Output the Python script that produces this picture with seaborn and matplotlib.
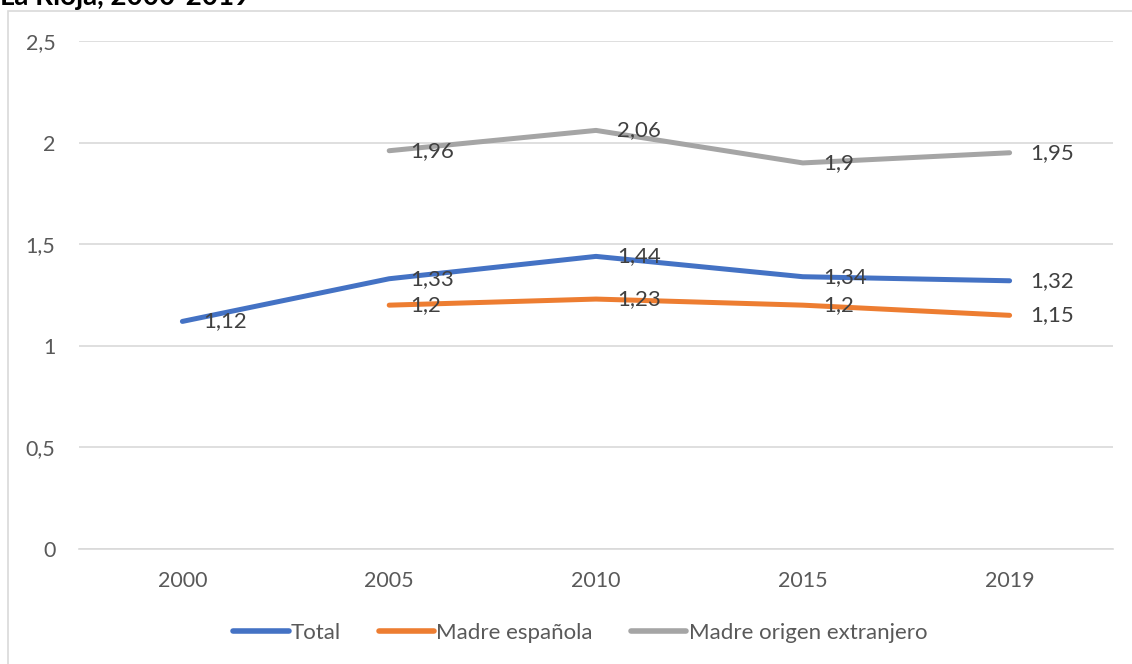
import pandas as pd
import numpy as np
import matplotlib.pyplot as plt
import seaborn as sns
from matplotlib.patches import Rectangle

# data
years = ["2000", "2005", "2010", "2015", "2019"]
total = [1.12, 1.33, 1.44, 1.34, 1.32]
madre_esp = [np.nan, 1.20, 1.23, 1.20, 1.15]
madre_ext = [np.nan, 1.96, 2.06, 1.90, 1.95]
series_names = ["Total", "Madre española", "Madre origen extranjero"]
colors = ["#4472C4", "#ED7D31", "#A5A5A5"]

rows = []
for name, vals in zip(series_names, [total, madre_esp, madre_ext]):
    for i, v in enumerate(vals):
        rows.append({"pos": i, "year": years[i], "serie": name, "valor": v})
df = pd.DataFrame(rows)

sns.set_style("white")
plt.rcParams['font.family'] = ['Lato', 'DejaVu Sans']
txt_color = "#595959"

fig = plt.figure(figsize=(11.32, 6.64), dpi=100)
W, H = 1132, 664
ax = fig.add_axes([79 / W, (H - 549) / H, (1113 - 79) / W, (549 - 41) / H])

sns.lineplot(data=df.dropna(), x="pos", y="valor", hue="serie",
             hue_order=series_names, palette=colors, linewidth=3.6,
             ax=ax, legend=True, sort=True)

# data labels
for name, vals in zip(series_names, [total, madre_esp, madre_ext]):
    for i, v in enumerate(vals):
        if np.isnan(v):
            continue
        lbl = f"{v:g}".replace(".", ",")
        ax.annotate(lbl, (i, v), xytext=(15, 0), textcoords="offset points",
                    ha="left", va="center", fontsize=16, color="#404040")

ax.set_xlim(-0.5, 4.5)
ax.set_ylim(0, 2.5)
ax.set_xticks(range(len(years)))
ax.set_xticklabels(years)
yt = [0, 0.5, 1, 1.5, 2, 2.5]
ax.set_yticks(yt)
ax.set_yticklabels([f"{t:g}".replace(".", ",") for t in yt])
ax.tick_params(axis="both", length=0, labelsize=15.5, labelcolor=txt_color)
ax.tick_params(axis="y", pad=17)
ax.tick_params(axis="x", pad=16)
ax.grid(axis="y", color="#D9D9D9", linewidth=1.2)
ax.set_axisbelow(True)
for s in ["top", "right", "left"]:
    ax.spines[s].set_visible(False)
ax.spines["bottom"].set_color("#D9D9D9")
ax.spines["bottom"].set_linewidth(1.2)
ax.set_xlabel("")
ax.set_ylabel("")

handles, labels = ax.get_legend_handles_labels()
for h in handles:
    h.set_linewidth(4)
    h.set_solid_capstyle("round")
ax.legend(handles, labels, loc="center", bbox_to_anchor=(580 / W, (H - 633) / H),
          bbox_transform=fig.transFigure, ncol=3, frameon=False, fontsize=16,
          handlelength=2.5, handletextpad=0.1, columnspacing=1.7,
          labelcolor=txt_color)

# chart border and cropped title
fig.patches.append(Rectangle((8 / W, -0.1), 1.2, (H - 11) / H + 0.1,
                             transform=fig.transFigure, fill=False,
                             edgecolor="#D9D9D9", linewidth=1.2))
fig.text(0.0, 1 - 5 / H, "La Rioja, 2000-2019", fontsize=20, weight="bold",
         ha="left", va="baseline", color="black")

fig.savefig("out.png", dpi=100)
